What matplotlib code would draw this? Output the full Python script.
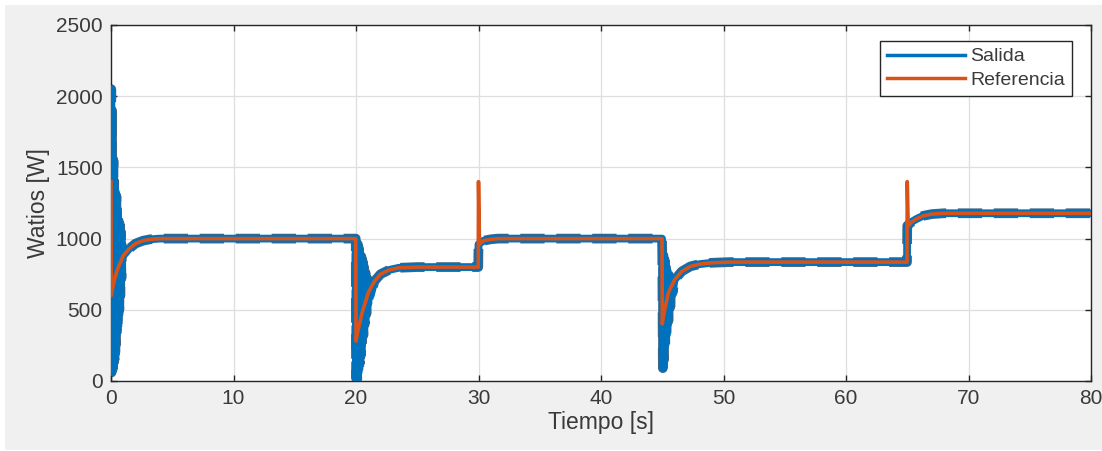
import numpy as np
import matplotlib.pyplot as plt
from matplotlib.lines import Line2D
from matplotlib.patches import Rectangle

plt.rcParams['font.family'] = ['Liberation Sans', 'DejaVu Sans']

# Referencia (naranja): tiempo [s] y potencia [W]
t_ref = [0, 0.02, 0.1, 0.3, 0.6, 1.0, 1.5, 2.0, 2.6, 3.2, 4.0, 19.98,
         20.0, 20.1, 20.5, 21.0, 21.5, 22.0, 22.7, 23.5, 25.0, 29.98,
         30.0, 30.08, 30.4, 31.0, 31.6, 44.98,
         45.0, 45.1, 45.5, 46.0, 46.6, 47.3, 48.0, 49.0, 50.5, 64.98,
         65.0, 65.08, 65.4, 65.8, 66.3, 67.0, 68.0, 80.0]
p_ref = [1400, 600, 640, 720, 800, 880, 930, 965, 985, 995, 1000, 1000,
         280, 330, 480, 620, 700, 750, 780, 795, 800, 800,
         1400, 960, 985, 995, 1000, 1000,
         400, 460, 620, 710, 770, 805, 820, 830, 835, 835,
         1400, 1090, 1120, 1140, 1160, 1172, 1178, 1178]

# Salida (azul): tiempo [s] y potencia [W]
t_sal = [0, 0.02, 0.05, 0.08, 0.11, 0.14, 0.17, 0.2, 0.23, 0.26, 0.29,
         0.32, 0.35, 0.38, 0.41, 0.44, 0.47, 0.5, 0.53, 0.56, 0.6, 0.64,
         0.68, 0.72, 0.76, 0.8, 0.85, 0.9, 1.0, 1.5, 2.0, 2.6, 3.2, 4.0,
         19.98, 20.0, 20.05, 20.1, 20.15, 20.2, 20.25, 20.3, 20.35, 20.4,
         20.45, 20.5, 20.55, 20.6, 20.66, 20.72, 20.78, 20.85, 20.92, 21.0,
         21.1, 21.2, 21.5, 22.0, 22.7, 23.5, 25.0, 29.98,
         30.0, 30.4, 31.0, 31.6, 44.98,
         45.0, 45.05, 45.1, 45.15, 45.2, 45.25, 45.3, 45.35, 45.42, 45.5,
         45.58, 45.66, 45.75, 45.85, 46.0, 46.6, 47.3, 48.0, 49.0, 50.5,
         64.98, 65.0, 65.4, 65.8, 66.3, 67.0, 68.0, 80.0]
p_sal = [1200, 2050, 60, 1900, 80, 1560, 90, 1550, 100, 1400, 150,
         1350, 200, 1330, 260, 1300, 330, 1200, 350, 1150, 420, 1120,
         500, 1100, 600, 1050, 720, 950, 880, 930, 965, 985, 995, 1000,
         1000, 20, 950, 10, 960, 60, 930, 120, 900, 180,
         870, 250, 840, 320, 800, 400, 760, 470, 720, 540,
         680, 600, 700, 750, 780, 795, 800, 800,
         960, 985, 995, 1000, 1000,
         900, 90, 880, 150, 850, 250, 820, 320, 780, 420,
         740, 520, 720, 620, 710, 770, 805, 820, 830, 835,
         835, 1090, 1120, 1140, 1160, 1172, 1178, 1178]

x_ticks = [0, 10, 20, 30, 40, 50, 60, 70, 80]
y_ticks = [0, 500, 1000, 1500, 2000, 2500]

azul = '#0072BD'
naranja = '#D95319'
texto = '#3a3a3a'

fig = plt.figure(figsize=(11.02, 4.51), dpi=100)
fig.patch.set_facecolor('white')
fig.patches.append(Rectangle((5 / 1102, 1 / 451), 1, 445 / 451,
                             transform=fig.transFigure, facecolor='#f0f0f0',
                             edgecolor='none', zorder=-10))

ax = fig.add_axes([111 / 1102, 70 / 451, 980 / 1102, 356 / 451])
ax.set_facecolor('white')

# borde rayado oscuro bajo la banda azul
ax.plot(t_sal, p_sal, color='#3f6584', lw=7, ls=(0, (2.5, 1.2)),
        solid_joinstyle='round', dash_joinstyle='round', zorder=2.5)
ax.plot(t_sal, p_sal, color=azul, lw=5.6, solid_joinstyle='round', zorder=3)
ax.plot(t_ref, p_ref, color=naranja, lw=2.6, solid_joinstyle='round', zorder=4)

ax.set_xlim(0, 80)
ax.set_ylim(0, 2500)
ax.set_xticks(x_ticks)
ax.set_yticks(y_ticks)
ax.grid(True, color='#dedede', lw=0.9)
ax.set_axisbelow(True)
ax.tick_params(direction='in', length=4, width=1, colors='#262626',
               labelcolor=texto, labelsize=15, top=True, right=True, pad=6)
for s in ax.spines.values():
    s.set_color('#262626')
    s.set_linewidth(1)

ax.set_xlabel('Tiempo [s]', fontsize=16.5, color=texto, labelpad=2)
ax.set_ylabel('Watios [W]', fontsize=16.5, color=texto, labelpad=4)

handles = [Line2D([], [], color=azul, lw=2.5), Line2D([], [], color=naranja, lw=2.5)]
leg = ax.legend(handles, ['Salida', 'Referencia'], loc='upper right',
                bbox_to_anchor=(961 / 980, 340 / 356), borderaxespad=0,
                fontsize=14, handlelength=4.0, handletextpad=0.3,
                labelspacing=0.3, borderpad=0.35, fancybox=False,
                framealpha=1, edgecolor='#262626')
leg.get_frame().set_linewidth(1)
for txt in leg.get_texts():
    txt.set_color(texto)

fig.savefig('out.png', dpi=100)
